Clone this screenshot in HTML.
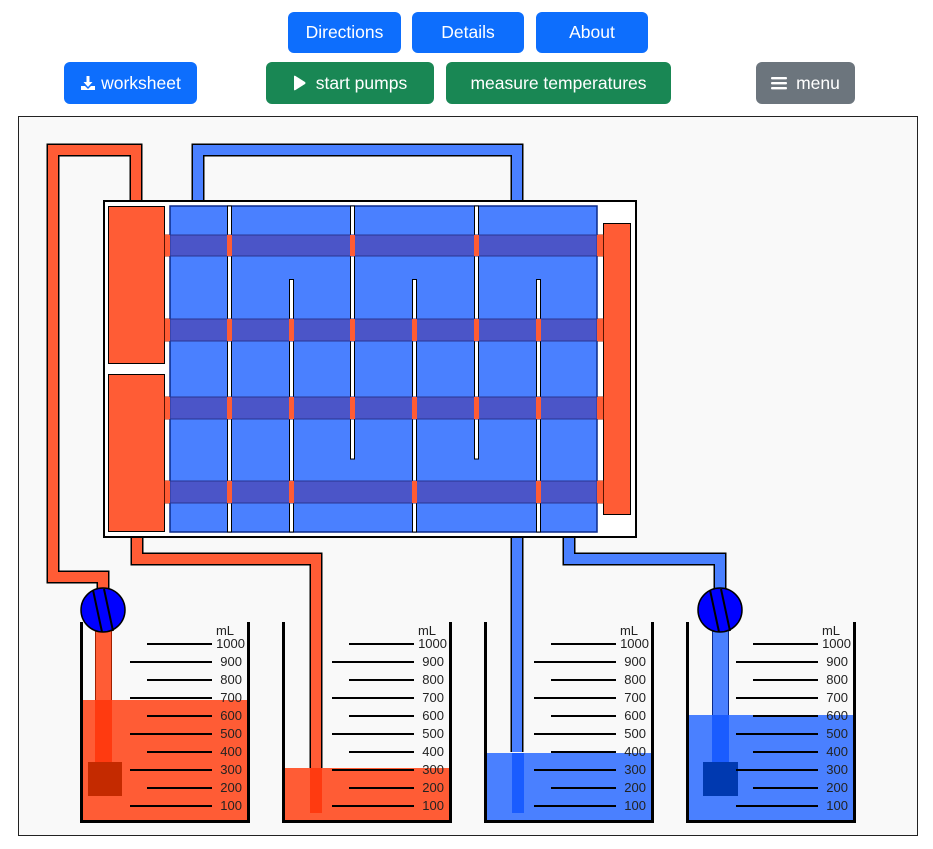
<!DOCTYPE html>
<html><head><meta charset="utf-8"><style>
body{margin:0;background:#fff;width:933px;height:849px;overflow:hidden;font-family:"Liberation Sans",sans-serif;}
.btn{position:absolute;color:#fff;border-radius:6px;font-size:17.5px;display:flex;align-items:center;justify-content:center;box-sizing:border-box;}
.b{background:#0d6efd}.g{background:#198754}.s{background:#6c757d}
svg{position:absolute;left:0;top:0}
</style></head><body>
<div class="btn b" style="left:288px;top:12px;width:113px;height:41px">Directions</div>
<div class="btn b" style="left:412px;top:12px;width:112px;height:41px">Details</div>
<div class="btn b" style="left:536px;top:12px;width:112px;height:41px">About</div>
<div class="btn b" style="left:64px;top:62px;width:133px;height:42px"><svg style="position:static;margin-right:5px" width="16" height="16" viewBox="0 0 16 16"><path d="M6.5 1h3v6h3l-4.5 5-4.5-5h3z" fill="#fff"/><path d="M1 11h4l3 3 3-3h4v4H1z" fill="#fff"/></svg>worksheet</div>
<div class="btn g" style="left:266px;top:62px;width:168px;height:42px"><svg style="position:static;margin-right:10px" width="13" height="16" viewBox="0 0 13 16"><path d="M1 1.5Q1 0 2.5 1L12 7Q13 8 12 9L2.5 15Q1 16 1 14.5Z" fill="#fff"/></svg>start pumps</div>
<div class="btn g" style="left:446px;top:62px;width:225px;height:42px">measure temperatures</div>
<div class="btn s" style="left:756px;top:62px;width:99px;height:42px"><svg style="position:static;margin-right:9px" width="16" height="14" viewBox="0 0 16 14"><rect x="0" y="1" width="16" height="2.4" rx="1" fill="#fff"/><rect x="0" y="6" width="16" height="2.4" rx="1" fill="#fff"/><rect x="0" y="11" width="16" height="2.4" rx="1" fill="#fff"/></svg>menu</div>

<svg width="933" height="849" viewBox="0 0 933 849" style="top:0;left:0;pointer-events:none">
<rect x="18.5" y="116.5" width="899" height="719" fill="#f9f9f9" stroke="#222" stroke-width="1"/>
<g fill="none" stroke-linejoin="miter">
<path d="M136 206V150H53V577H103V595" stroke="#000" stroke-width="13"/>
<path d="M136 206V150H53V577H103V595" stroke="#ff5c35" stroke-width="10"/>
<path d="M198 206V150H517V206" stroke="#000" stroke-width="13"/>
<path d="M198 206V150H517V206" stroke="#4a80ff" stroke-width="10"/>
<path d="M137 532V559H316V768" stroke="#000" stroke-width="13"/>
<path d="M137 532V559H316V768" stroke="#ff5c35" stroke-width="10"/>
<path d="M517 532V752" stroke="#000" stroke-width="13"/>
<path d="M517 532V752" stroke="#4a80ff" stroke-width="10"/>
<path d="M569 532V559H720V595" stroke="#000" stroke-width="13"/>
<path d="M569 532V559H720V595" stroke="#4a80ff" stroke-width="10"/>
</g>
<rect x="104" y="201" width="532" height="336" fill="#fff" stroke="#000" stroke-width="2"/>
<rect x="108.5" y="206.5" width="56" height="157" fill="#ff5c35" stroke="#000"/>
<rect x="108.5" y="374.5" width="56" height="157" fill="#ff5c35" stroke="#000"/>
<rect x="603.5" y="223.5" width="27" height="291" fill="#ff5c35" stroke="#000"/>
<g fill="#ff5c35" stroke="#b02800" stroke-width="1">
<rect x="165" y="235" width="438" height="21"/><rect x="165" y="319" width="438" height="22"/>
<rect x="165" y="397" width="438" height="22"/><rect x="165" y="481" width="438" height="22"/>
</g>
<rect x="170" y="206" width="427" height="326" fill="#4a80ff" stroke="#0b2a8a" stroke-width="1.5"/>
<g fill="#fff" stroke="#000" stroke-width="1">
<rect x="227.5" y="206" width="4" height="326"/>
<rect x="289.5" y="279.5" width="4" height="252.5"/>
<rect x="350.5" y="206" width="4" height="253"/>
<rect x="412.5" y="279.5" width="4" height="252.5"/>
<rect x="474.5" y="206" width="4" height="253"/>
<rect x="536.5" y="279.5" width="4" height="252.5"/>
</g>
<g fill="#4b55c8" stroke="#2a3590" stroke-width="1">
<rect x="170" y="235" width="427" height="21"/><rect x="170" y="319" width="427" height="22"/>
<rect x="170" y="397" width="427" height="22"/><rect x="170" y="481" width="427" height="22"/>
</g>
<g fill="#ff5c35">
<rect x="165" y="235" width="5" height="21"/><rect x="165" y="319" width="5" height="22"/><rect x="165" y="397" width="5" height="22"/><rect x="165" y="481" width="5" height="22"/>
<rect x="597" y="235" width="6" height="21"/><rect x="597" y="319" width="6" height="22"/><rect x="597" y="397" width="6" height="22"/><rect x="597" y="481" width="6" height="22"/>
<rect x="227" y="235" width="5" height="21"/><rect x="227" y="319" width="5" height="22"/><rect x="227" y="397" width="5" height="22"/><rect x="227" y="481" width="5" height="22"/>
<rect x="289" y="319" width="5" height="22"/><rect x="289" y="397" width="5" height="22"/><rect x="289" y="481" width="5" height="22"/>
<rect x="350" y="235" width="5" height="21"/><rect x="350" y="319" width="5" height="22"/><rect x="350" y="397" width="5" height="22"/>
<rect x="412" y="319" width="5" height="22"/><rect x="412" y="397" width="5" height="22"/><rect x="412" y="481" width="5" height="22"/>
<rect x="474" y="235" width="5" height="21"/><rect x="474" y="319" width="5" height="22"/><rect x="474" y="397" width="5" height="22"/>
<rect x="536" y="319" width="5" height="22"/><rect x="536" y="397" width="5" height="22"/><rect x="536" y="481" width="5" height="22"/>
</g>
<rect x="95.5" y="620" width="16" height="150" fill="#ff5c35" stroke="#a02000" stroke-width="1"/>
<rect x="712.5" y="620" width="16" height="150" fill="#4a80ff" stroke="#0b2a8a" stroke-width="1"/>
<rect x="80" y="700" width="170" height="122" fill="#ff5c35"/>
<rect x="282" y="768" width="170" height="54" fill="#ff5c35"/>
<rect x="484" y="753" width="170" height="69" fill="#4a80ff"/>
<rect x="686" y="715" width="170" height="107" fill="#4a80ff"/>
<rect x="95" y="700" width="17" height="70" fill="#ff3a10"/>
<rect x="88" y="762" width="34" height="34" fill="#c42a00"/>
<rect x="310" y="768" width="12" height="45" fill="#ff3a10"/>
<rect x="512" y="753" width="12" height="60" fill="#1a5cff"/>
<rect x="712" y="715" width="17" height="55" fill="#1a5cff"/>
<rect x="703" y="762" width="35" height="34" fill="#0039b0"/>
<circle cx="103" cy="610" r="22" fill="#0000ff" stroke="#000" stroke-width="1.5"/>
<line x1="93" y1="590" x2="102" y2="632" stroke="#000" stroke-width="2"/><line x1="104" y1="589" x2="113" y2="631" stroke="#000" stroke-width="2"/>
<circle cx="720" cy="610" r="22" fill="#0000ff" stroke="#000" stroke-width="1.5"/>
<line x1="710" y1="590" x2="719" y2="632" stroke="#000" stroke-width="2"/><line x1="721" y1="589" x2="730" y2="631" stroke="#000" stroke-width="2"/>
<g font-family="Liberation Sans, Arial, sans-serif" font-size="13" fill="#222">
<g transform="translate(80,0)">
<path d="M1.5 622V821.5H168.5V622" fill="none" stroke="#000" stroke-width="3"/>
<g stroke="#000" stroke-width="2"><path d="M67 644H132M50 662H132M67 680H132M50 698H132M67 716H132M50 734H132M67 752H132M50 770H132M67 788H132M50 806H132"/></g>
<g text-anchor="end"><text x="145" y="635" text-anchor="middle">mL</text><text x="165" y="648">1000</text><text x="162" y="666">900</text><text x="162" y="684">800</text><text x="162" y="702">700</text><text x="162" y="720">600</text><text x="162" y="738">500</text><text x="162" y="756">400</text><text x="162" y="774">300</text><text x="162" y="792">200</text><text x="162" y="810">100</text></g>
</g>
<g transform="translate(282,0)">
<path d="M1.5 622V821.5H168.5V622" fill="none" stroke="#000" stroke-width="3"/>
<g stroke="#000" stroke-width="2"><path d="M67 644H132M50 662H132M67 680H132M50 698H132M67 716H132M50 734H132M67 752H132M50 770H132M67 788H132M50 806H132"/></g>
<g text-anchor="end"><text x="145" y="635" text-anchor="middle">mL</text><text x="165" y="648">1000</text><text x="162" y="666">900</text><text x="162" y="684">800</text><text x="162" y="702">700</text><text x="162" y="720">600</text><text x="162" y="738">500</text><text x="162" y="756">400</text><text x="162" y="774">300</text><text x="162" y="792">200</text><text x="162" y="810">100</text></g>
</g>
<g transform="translate(484,0)">
<path d="M1.5 622V821.5H168.5V622" fill="none" stroke="#000" stroke-width="3"/>
<g stroke="#000" stroke-width="2"><path d="M67 644H132M50 662H132M67 680H132M50 698H132M67 716H132M50 734H132M67 752H132M50 770H132M67 788H132M50 806H132"/></g>
<g text-anchor="end"><text x="145" y="635" text-anchor="middle">mL</text><text x="165" y="648">1000</text><text x="162" y="666">900</text><text x="162" y="684">800</text><text x="162" y="702">700</text><text x="162" y="720">600</text><text x="162" y="738">500</text><text x="162" y="756">400</text><text x="162" y="774">300</text><text x="162" y="792">200</text><text x="162" y="810">100</text></g>
</g>
<g transform="translate(686,0)">
<path d="M1.5 622V821.5H168.5V622" fill="none" stroke="#000" stroke-width="3"/>
<g stroke="#000" stroke-width="2"><path d="M67 644H132M50 662H132M67 680H132M50 698H132M67 716H132M50 734H132M67 752H132M50 770H132M67 788H132M50 806H132"/></g>
<g text-anchor="end"><text x="145" y="635" text-anchor="middle">mL</text><text x="165" y="648">1000</text><text x="162" y="666">900</text><text x="162" y="684">800</text><text x="162" y="702">700</text><text x="162" y="720">600</text><text x="162" y="738">500</text><text x="162" y="756">400</text><text x="162" y="774">300</text><text x="162" y="792">200</text><text x="162" y="810">100</text></g>
</g>
</g>
</svg>
</body></html>
